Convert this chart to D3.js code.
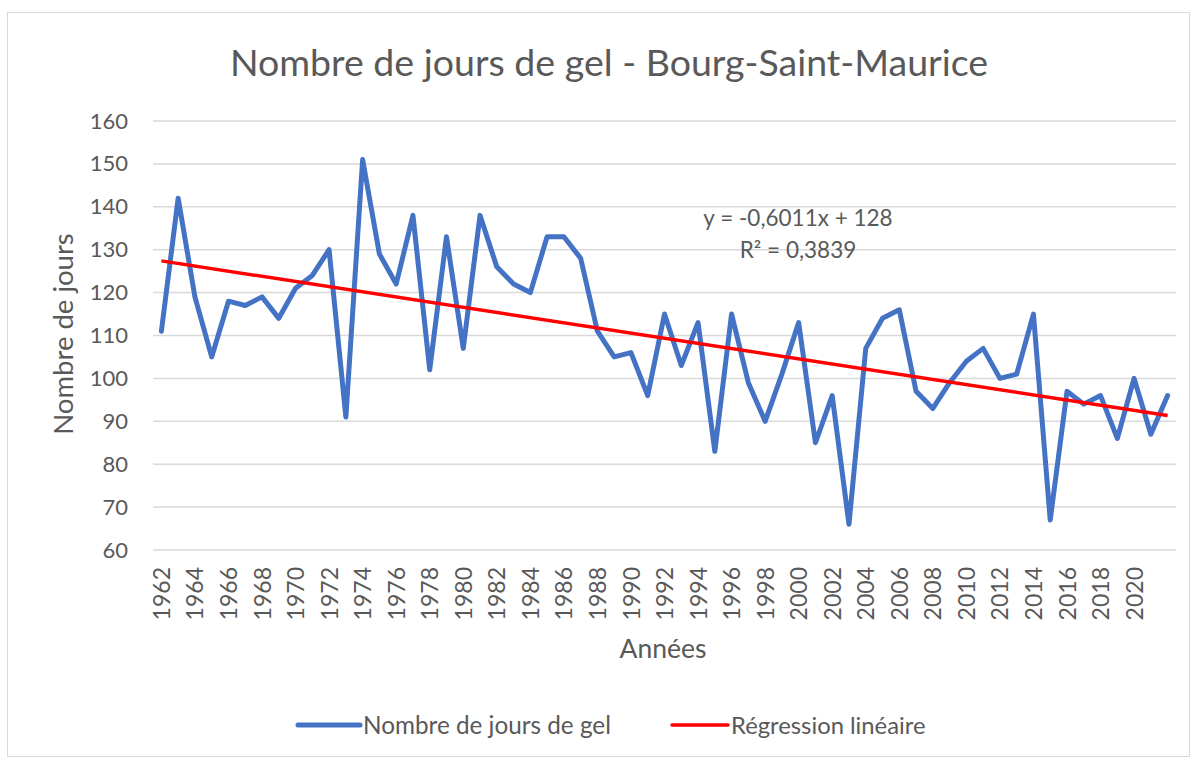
<!DOCTYPE html>
<html>
<head>
<meta charset="utf-8">
<script src="https://cdn.jsdelivr.net/npm/d3@7"></script>
<style>
  body { margin: 0; background: #fff; }
  text { font-family: Lato, "Open Sans", sans-serif; fill: #595959; }
</style>
</head>
<body>
<div id="chart"></div>
<script>
// Data
var years = [1962, 1963, 1964, 1965, 1966, 1967, 1968, 1969, 1970, 1971,
    1972, 1973, 1974, 1975, 1976, 1977, 1978, 1979, 1980, 1981,
    1982, 1983, 1984, 1985, 1986, 1987, 1988, 1989, 1990, 1991,
    1992, 1993, 1994, 1995, 1996, 1997, 1998, 1999, 2000, 2001,
    2002, 2003, 2004, 2005, 2006, 2007, 2008, 2009, 2010, 2011,
    2012, 2013, 2014, 2015, 2016, 2017, 2018, 2019, 2020, 2021, 2022];

var frostDays = [111, 142, 119, 105, 118, 117, 119, 114, 121, 124,
    130, 91, 151, 129, 122, 138, 102, 133, 107, 138,
    126, 122, 120, 133, 133, 128, 111, 105, 106, 96,
    115, 103, 113, 83, 115, 99, 90, 101, 113, 85,
    96, 66, 107, 114, 116, 97, 93, 99, 104, 107,
    100, 101, 115, 67, 97, 94, 96, 86, 100, 87, 96];

var yearTicks = [1962, 1964, 1966, 1968, 1970, 1972, 1974, 1976, 1978, 1980,
    1982, 1984, 1986, 1988, 1990, 1992, 1994, 1996, 1998, 2000,
    2002, 2004, 2006, 2008, 2010, 2012, 2014, 2016, 2018, 2020];

var dayTicks = [60, 70, 80, 90, 100, 110, 120, 130, 140, 150, 160];

// trend line as printed on the chart (x = 1 for the first year)
var trendSlope = -0.6011;
var trendIntercept = 128;
var trendLabel = ["y = -0,6011x + 128", "R² = 0,3839"];

var svgWidth = 1197;
var svgHeight = 760;

var margin = { top: 121, right: 21, bottom: 210, left: 153 };
var width = svgWidth - margin.left - margin.right;
var height = svgHeight - margin.top - margin.bottom;

var svg = d3.select("#chart").append("svg")
    .attr("width", svgWidth)
    .attr("height", svgHeight);

// chart frame
svg.append("rect")
    .attr("x", 7.5).attr("y", 12.5)
    .attr("width", 1182).attr("height", 744)
    .attr("fill", "#fff")
    .attr("stroke", "#d9d9d9")
    .attr("stroke-width", 1);

var chartGroup = svg.append("g")
    .attr("transform", `translate(${margin.left}, ${margin.top})`);

// scales
var xScale = d3.scalePoint()
    .domain(years)
    .range([0, width])
    .padding(0.5);

var yScale = d3.scaleLinear()
    .domain([60, 160])
    .range([height, 0]);

// gridlines
chartGroup.append("g")
    .selectAll("line")
    .data(dayTicks)
    .enter()
    .append("line")
    .attr("x1", 0)
    .attr("x2", width)
    .attr("y1", d => yScale(d))
    .attr("y2", d => yScale(d))
    .attr("stroke", "#d9d9d9")
    .attr("stroke-width", 1.5);

// y axis
var leftAxis = d3.axisLeft(yScale).tickValues(dayTicks).tickSize(0).tickPadding(25);
var yAxis = chartGroup.append("g").call(leftAxis);
yAxis.select(".domain").remove();
yAxis.selectAll("text")
    .style("font-size", "22px")
    .style("fill", "#595959")
    .style("font-family", "Lato, sans-serif");

// x axis
var bottomAxis = d3.axisBottom(xScale).tickValues(yearTicks).tickSize(0);
var xAxis = chartGroup.append("g")
    .attr("transform", `translate(0, ${height})`)
    .call(bottomAxis);
xAxis.select(".domain").remove();
xAxis.selectAll("text")
    .attr("transform", "rotate(-90)")
    .attr("x", -17)
    .attr("y", 0)
    .attr("dy", "0.35em")
    .attr("text-anchor", "end")
    .style("font-size", "23px")
    .style("fill", "#595959")
    .style("font-family", "Lato, sans-serif");

// data line
var line = d3.line()
    .x((d, i) => xScale(years[i]))
    .y(d => yScale(d));

chartGroup.append("path")
    .datum(frostDays)
    .attr("fill", "none")
    .attr("stroke", "#4472C4")
    .attr("stroke-width", 5)
    .attr("stroke-linejoin", "round")
    .attr("stroke-linecap", "round")
    .attr("d", line);

// regression line
var firstYear = years[0];
var lastYear = years[years.length - 1];
var trend = [firstYear, lastYear].map(yr => ({
    year: yr,
    value: trendIntercept + trendSlope * (yr - firstYear + 1)
}));

chartGroup.append("path")
    .datum(trend)
    .attr("fill", "none")
    .attr("stroke", "#ff0000")
    .attr("stroke-width", 3.5)
    .attr("d", d3.line().x(d => xScale(d.year)).y(d => yScale(d.value)));

// equation label
chartGroup.append("text")
    .attr("x", 645)
    .attr("y", 105)
    .attr("text-anchor", "middle")
    .style("font-size", "22.5px")
    .text(trendLabel[0]);

chartGroup.append("text")
    .attr("x", 645)
    .attr("y", 137)
    .attr("text-anchor", "middle")
    .style("font-size", "22.5px")
    .text(trendLabel[1]);

// titles
svg.append("text")
    .attr("x", 609)
    .attr("y", 76)
    .attr("text-anchor", "middle")
    .style("font-size", "37.5px")
    .text("Nombre de jours de gel - Bourg-Saint-Maurice");

svg.append("text")
    .attr("transform", "rotate(-90)")
    .attr("x", -334)
    .attr("y", 73)
    .attr("text-anchor", "middle")
    .style("font-size", "27.5px")
    .text("Nombre de jours");

svg.append("text")
    .attr("x", 663)
    .attr("y", 658)
    .attr("text-anchor", "middle")
    .style("font-size", "26.5px")
    .text("Années");

// legend
var legend = svg.append("g").attr("transform", "translate(298, 725)");
legend.append("line")
    .attr("x1", 0).attr("x2", 62).attr("y1", 0).attr("y2", 0)
    .attr("stroke", "#4472C4").attr("stroke-width", 5).attr("stroke-linecap", "round");
legend.append("text")
    .attr("x", 65).attr("y", 8.5)
    .style("font-size", "24.3px")
    .text("Nombre de jours de gel");
legend.append("line")
    .attr("x1", 374).attr("x2", 430).attr("y1", 0).attr("y2", 0)
    .attr("stroke", "#ff0000").attr("stroke-width", 3.5).attr("stroke-linecap", "round");
legend.append("text")
    .attr("x", 433).attr("y", 8.5)
    .style("font-size", "23.8px")
    .text("Régression linéaire");
</script>
</body>
</html>
